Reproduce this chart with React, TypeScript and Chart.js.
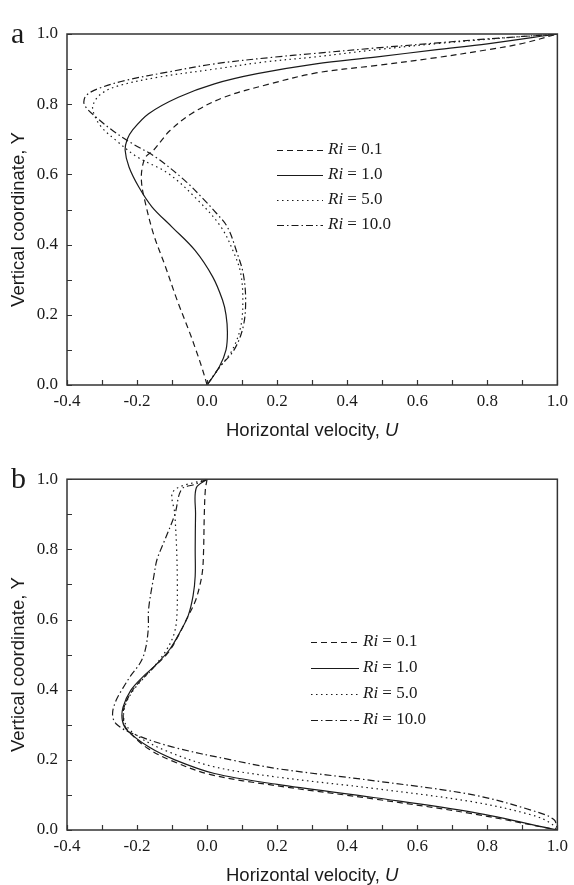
import React, { useEffect, useRef } from "react";
import { Chart, registerables } from "chart.js";

Chart.register(...registerables);

const SERIF = "'Liberation Serif', 'Times New Roman', serif";
const SANS = "'Liberation Sans', Arial, sans-serif";
const INK = "#1a1a1a";

// ---------- data ----------
const riLabels = ["0.1", "1.0", "5.0", "10.0"];
const xTitle = "Horizontal velocity, ";
const xTitleVar = "U";
const yTitle = "Vertical coordinate, Y";

// Panel a
const aY_01 = [0, 0.05, 0.1, 0.15, 0.24, 0.34, 0.43, 0.53, 0.575, 0.615, 0.65, 0.669, 0.697, 0.725, 0.773, 0.82, 0.858, 0.889, 0.91, 0.932, 0.955, 0.973, 1.0];
const aU_01 = [0, -0.015, -0.032, -0.05, -0.085, -0.12, -0.153, -0.179, -0.187, -0.186, -0.175, -0.153, -0.13, -0.106, -0.045, 0.049, 0.18, 0.311, 0.48, 0.65, 0.8, 0.9, 1.0];

const aY_1 = [0, 0.052, 0.1, 0.15, 0.2, 0.242, 0.308, 0.384, 0.45, 0.507, 0.564, 0.621, 0.669, 0.7, 0.725, 0.773, 0.82, 0.858, 0.887, 0.915, 0.934, 0.955, 0.972, 1.0];
const aU_1 = [0, 0.035, 0.054, 0.058, 0.054, 0.044, 0.016, -0.035, -0.1, -0.157, -0.195, -0.223, -0.234, -0.228, -0.214, -0.167, -0.082, 0.021, 0.143, 0.311, 0.48, 0.65, 0.8, 1.0];

const aY_5 = [0, 0.05, 0.1, 0.166, 0.242, 0.318, 0.375, 0.45, 0.526, 0.602, 0.65, 0.697, 0.735, 0.77, 0.797, 0.83, 0.853, 0.877, 0.9, 0.92, 0.935, 0.955, 0.972, 0.985, 1.0];
const aU_5 = [0, 0.035, 0.072, 0.096, 0.102, 0.096, 0.077, 0.04, -0.026, -0.11, -0.2, -0.26, -0.302, -0.322, -0.326, -0.302, -0.251, -0.139, 0.021, 0.161, 0.311, 0.48, 0.65, 0.8, 1.0];

const aY_10 = [0, 0.05, 0.1, 0.166, 0.242, 0.318, 0.375, 0.45, 0.49, 0.526, 0.583, 0.65, 0.688, 0.725, 0.763, 0.79, 0.806, 0.825, 0.844, 0.868, 0.892, 0.915, 0.934, 0.945, 0.96, 0.974, 0.986, 1.0];
const aU_10 = [0, 0.035, 0.077, 0.103, 0.11, 0.103, 0.086, 0.058, 0.026, -0.007, -0.064, -0.148, -0.214, -0.27, -0.317, -0.345, -0.352, -0.345, -0.312, -0.232, -0.11, 0.021, 0.19, 0.311, 0.48, 0.65, 0.8, 1.0];

// Panel b
const bY_01 = [1.0, 0.97, 0.9, 0.8, 0.74, 0.696, 0.649, 0.6, 0.554, 0.507, 0.459, 0.42, 0.398, 0.35, 0.303, 0.28, 0.233, 0.197, 0.158, 0.126, 0.088, 0.046, 0];
const bU_01 = [0, -0.005, -0.008, -0.01, -0.013, -0.021, -0.035, -0.059, -0.082, -0.11, -0.157, -0.195, -0.213, -0.237, -0.237, -0.223, -0.17, -0.1, 0.01, 0.2, 0.48, 0.76, 1.0];

const bY_1 = [1.0, 0.975, 0.9, 0.8, 0.724, 0.668, 0.611, 0.563, 0.516, 0.469, 0.44, 0.398, 0.35, 0.3125, 0.284, 0.237, 0.2, 0.161, 0.13, 0.092, 0.05, 0];
const bU_1 = [0, -0.031, -0.033, -0.034, -0.034, -0.04, -0.054, -0.078, -0.106, -0.148, -0.18, -0.218, -0.24, -0.242, -0.228, -0.167, -0.092, 0.021, 0.2, 0.48, 0.76, 1.0];

const bY_5 = [1.0, 0.966, 0.9, 0.8, 0.696, 0.6, 0.554, 0.507, 0.459, 0.407, 0.36, 0.3125, 0.275, 0.227, 0.18, 0.151, 0.118, 0.08, 0.042, 0.02, 0];
const bU_5 = [0, -0.096, -0.092, -0.087, -0.085, -0.087, -0.096, -0.12, -0.157, -0.204, -0.232, -0.237, -0.209, -0.12, 0.021, 0.2, 0.48, 0.76, 0.93, 0.98, 1.0];

const bY_10 = [1.0, 0.985, 0.971, 0.9, 0.819, 0.771, 0.724, 0.63, 0.573, 0.516, 0.478, 0.44, 0.405, 0.369, 0.331, 0.303, 0.275, 0.237, 0.2, 0.175, 0.14, 0.1, 0.055, 0.03, 0];
const bU_10 = [0, -0.036, -0.073, -0.092, -0.124, -0.143, -0.152, -0.167, -0.168, -0.176, -0.19, -0.218, -0.24, -0.26, -0.27, -0.26, -0.213, -0.1, 0.068, 0.2, 0.48, 0.76, 0.93, 0.99, 1.0];

// ---------- styles ----------
const dashPatterns = [[6, 4], [], [1.5, 3.5], [7, 3, 1.5, 3]];

function pts(us: number[], ys: number[]) {
  return us.map((u, i) => ({ x: u, y: ys[i] }));
}

type PanelProps = {
  top: number;
  height: number;
  padTop: number;
  xAxisH: number;
  letter: string;
  series: { u: number[]; y: number[] }[];
  legend: { x1: number; x2: number; tx: number; y0: number; gap: number };
};

const decorPlugin = {
  id: "decor",
  afterDraw(chart: any, _args: any, opts: any) {
    const { ctx, chartArea: ca, scales } = chart;
    const xs = scales.x;
    const ys = scales.y;
    ctx.save();
    // frame
    ctx.strokeStyle = "#333";
    ctx.lineWidth = 1.5;
    ctx.setLineDash([]);
    ctx.strokeRect(ca.left, ca.top, ca.right - ca.left, ca.bottom - ca.top);
    // inward ticks every 0.1
    ctx.lineWidth = 1.2;
    ctx.beginPath();
    for (let v = xs.min; v <= xs.max + 1e-9; v += 0.1) {
      const px = Math.round(xs.getPixelForValue(v)) + 0.5;
      ctx.moveTo(px, ca.bottom);
      ctx.lineTo(px, ca.bottom - 5);
    }
    for (let v = ys.min; v <= ys.max + 1e-9; v += 0.1) {
      const py = Math.round(ys.getPixelForValue(v)) + 0.5;
      ctx.moveTo(ca.left, py);
      ctx.lineTo(ca.left + 5, py);
    }
    ctx.stroke();

    ctx.fillStyle = INK;
    // x title
    const tSize = 18.5;
    ctx.font = `${tSize}px ${SANS}`;
    const w1 = ctx.measureText(xTitle).width;
    ctx.font = `italic ${tSize}px ${SANS}`;
    const w2 = ctx.measureText(xTitleVar).width;
    const cx = (ca.left + ca.right) / 2;
    const bx = cx - (w1 + w2) / 2;
    const by = ca.bottom + 51;
    ctx.textBaseline = "alphabetic";
    ctx.textAlign = "left";
    ctx.font = `${tSize}px ${SANS}`;
    ctx.fillText(xTitle, bx, by);
    ctx.font = `italic ${tSize}px ${SANS}`;
    ctx.fillText(xTitleVar, bx + w1, by);

    // y title
    ctx.save();
    ctx.translate(19, (ca.top + ca.bottom) / 2 + 10);
    ctx.rotate(-Math.PI / 2);
    ctx.textAlign = "center";
    ctx.textBaseline = "middle";
    ctx.font = `${tSize}px ${SANS}`;
    ctx.fillText(yTitle, 0, 0);
    ctx.restore();

    // panel letter
    ctx.textAlign = "left";
    ctx.textBaseline = "alphabetic";
    ctx.font = `30px ${SERIF}`;
    ctx.fillText(opts.letter, 11, ca.top + 9);

    // legend
    const lg = opts.legend;
    chart.data.datasets.forEach((ds: any, i: number) => {
      const y = lg.y0 + i * lg.gap;
      ctx.strokeStyle = INK;
      ctx.lineWidth = 1.2;
      ctx.setLineDash(ds.borderDash || []);
      ctx.beginPath();
      ctx.moveTo(lg.x1, y + 0.5);
      ctx.lineTo(lg.x2, y + 0.5);
      ctx.stroke();
      ctx.setLineDash([]);
      ctx.textBaseline = "middle";
      ctx.font = `italic 17px ${SERIF}`;
      ctx.fillText("Ri", lg.tx, y);
      const wr = ctx.measureText("Ri").width;
      ctx.font = `17px ${SERIF}`;
      ctx.fillText(" = " + ds.label, lg.tx + wr, y);
    });
    ctx.restore();
  },
};

function Panel(p: PanelProps) {
  const ref = useRef<HTMLCanvasElement | null>(null);
  useEffect(() => {
    if (!ref.current) return;
    const tickFont = { family: SERIF, size: 17 };
    const fmt = (v: any) => (Math.round(Number(v) * 10) / 10).toFixed(1);
    const chart = new Chart(ref.current, {
      type: "scatter",
      data: {
        datasets: p.series.map((s, i) => ({
          label: riLabels[i],
          data: pts(s.u, s.y),
          showLine: true,
          borderColor: INK,
          backgroundColor: INK,
          borderWidth: 1.2,
          borderDash: dashPatterns[i],
          pointRadius: 0,
          pointHoverRadius: 0,
          tension: 0.35,
          fill: false,
        })),
      },
      options: {
        animation: false,
        responsive: false,
        maintainAspectRatio: false,
        events: [],
        layout: { padding: { top: p.padTop, right: 10, left: 0, bottom: 0 } },
        plugins: {
          legend: { display: false },
          tooltip: { enabled: false },
          decor: { letter: p.letter, legend: p.legend },
        } as any,
        scales: {
          x: {
            type: "linear",
            min: -0.4,
            max: 1.0,
            ticks: { stepSize: 0.2, padding: 6, font: tickFont, color: INK, callback: fmt, autoSkip: false, maxRotation: 0 },
            grid: { display: false, drawTicks: false },
            border: { display: false },
            afterFit: (s: any) => {
              s.height = p.xAxisH;
            },
          },
          y: {
            type: "linear",
            min: 0,
            max: 1,
            ticks: { stepSize: 0.2, padding: 9, font: tickFont, color: INK, callback: fmt, autoSkip: false },
            grid: { display: false, drawTicks: false },
            border: { display: false },
            afterFit: (s: any) => {
              s.width = 67;
            },
          },
        },
      } as any,
      plugins: [decorPlugin as any],
    });
    return () => chart.destroy();
  }, []);
  return (
    <canvas
      ref={ref}
      width={574}
      height={p.height}
      style={{ position: "absolute", left: 0, top: p.top, width: 574, height: p.height, display: "block" }}
    />
  );
}

export default function App() {
  return (
    <div style={{ position: "absolute", left: 0, top: 0, width: 574, height: 885, background: "#fff", overflow: "hidden" }}>
      <Panel
        top={0}
        height={460}
        padTop={34}
        xAxisH={75}
        letter="a"
        series={[
          { u: aU_01, y: aY_01 },
          { u: aU_1, y: aY_1 },
          { u: aU_5, y: aY_5 },
          { u: aU_10, y: aY_10 },
        ]}
        legend={{ x1: 277, x2: 323, tx: 328, y0: 150, gap: 25 }}
      />
      <Panel
        top={460}
        height={425}
        padTop={18}
        xAxisH={55}
        letter="b"
        series={[
          { u: bU_01, y: bY_01 },
          { u: bU_1, y: bY_1 },
          { u: bU_5, y: bY_5 },
          { u: bU_10, y: bY_10 },
        ]}
        legend={{ x1: 311, x2: 359, tx: 363, y0: 182, gap: 26 }}
      />
    </div>
  );
}
